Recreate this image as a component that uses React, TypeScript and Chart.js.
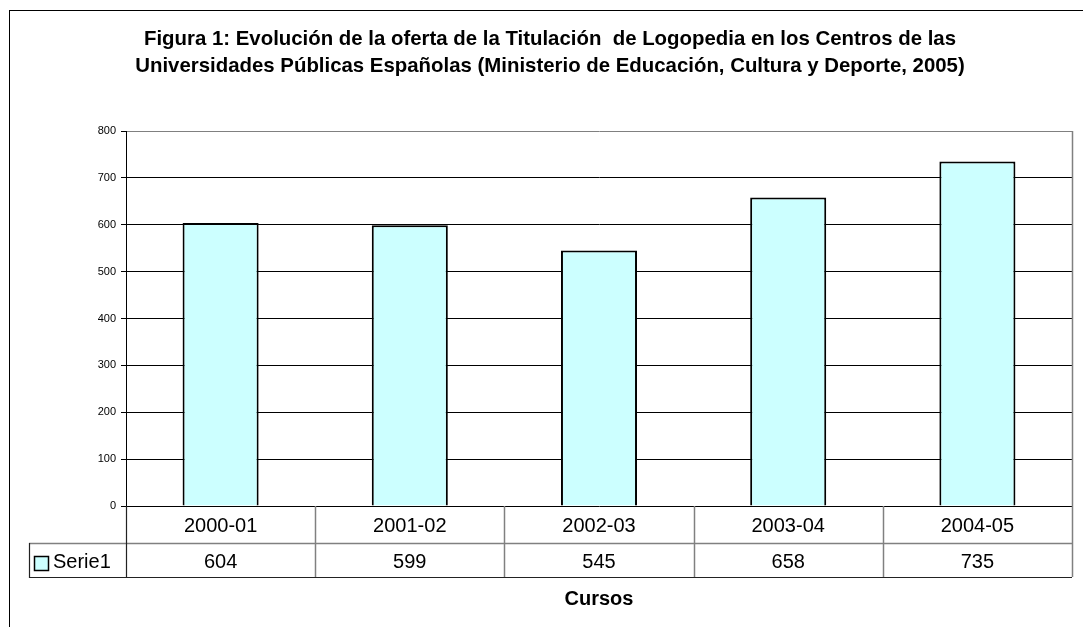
import React, { useEffect, useRef } from "react";
import { Chart, registerables } from "chart.js";

Chart.register(...registerables);

// ---- data ----
const categories: string[] = ["2000-01", "2001-02", "2002-03", "2003-04", "2004-05"];
const serie1Values: number[] = [604, 599, 545, 658, 735];
const seriesName = "Serie1";
const yMin = 0;
const yMax = 800;
const yStep = 100;
const titleLines: string[] = [
  "Figura 1: Evolución de la oferta de la Titulación  de Logopedia en los Centros de las",
  "Universidades Públicas Españolas (Ministerio de Educación, Cultura y Deporte, 2005)",
];
const xAxisTitle = "Cursos";

// ---- styles ----
const FONT = '"Liberation Sans", Arial, sans-serif';
const BAR_FILL = "#CCFFFF";
const GRAY = "#808080";

const W = 1083;
const H = 627;

const decorPlugin = {
  id: "excelDecor",
  beforeDraw(chart: any) {
    const ctx = chart.ctx as CanvasRenderingContext2D;
    ctx.save();
    ctx.fillStyle = "#ffffff";
    ctx.fillRect(0, 0, chart.width, chart.height);
    // outer chart frame (extends past right/bottom edges)
    ctx.strokeStyle = "#000000";
    ctx.lineWidth = 1;
    ctx.strokeRect(9.5, 10.5, chart.width + 40, chart.height + 40);
    ctx.restore();
  },
  afterDraw(chart: any) {
    const ctx = chart.ctx as CanvasRenderingContext2D;
    const ca = chart.chartArea;
    const x = chart.scales.x;
    const n = categories.length;
    const catW = (ca.right - ca.left) / n;

    const row1Top = ca.bottom;
    const row1Bot = ca.bottom + 37;
    const row2Bot = ca.bottom + 71;
    const legendLeft = 29;

    ctx.save();

    // Title
    ctx.fillStyle = "#000";
    ctx.font = `bold 20.4px ${FONT}`;
    ctx.textAlign = "center";
    ctx.textBaseline = "alphabetic";
    ctx.fillText(titleLines[0], 550, 45);
    ctx.fillText(titleLines[1], 550, 72);

    // Plot-area right border (gray), continues through the table
    ctx.strokeStyle = GRAY;
    ctx.lineWidth = 1.5;
    ctx.beginPath();
    ctx.moveTo(Math.round(ca.right) + 0.5, ca.top);
    ctx.lineTo(Math.round(ca.right) + 0.5, row2Bot);
    ctx.stroke();

    // Table grid: category separators
    ctx.strokeStyle = GRAY;
    ctx.lineWidth = 1.5;
    for (let i = 1; i < n; i++) {
      const xb = Math.round(x.getPixelForValue(i) - catW / 2) + 0.5;
      ctx.beginPath();
      ctx.moveTo(xb, row1Top);
      ctx.lineTo(xb, row2Bot);
      ctx.stroke();
    }
    // middle horizontal line
    ctx.beginPath();
    ctx.moveTo(legendLeft, Math.round(row1Bot) + 0.5);
    ctx.lineTo(ca.right, Math.round(row1Bot) + 0.5);
    ctx.stroke();

    // dark lines
    ctx.strokeStyle = "#222";
    ctx.lineWidth = 1.2;
    ctx.beginPath();
    ctx.moveTo(legendLeft, Math.round(row2Bot) + 0.5);
    ctx.lineTo(ca.right, Math.round(row2Bot) + 0.5);
    ctx.moveTo(legendLeft + 0.5, Math.round(row1Bot));
    ctx.lineTo(legendLeft + 0.5, Math.round(row2Bot) + 1);
    ctx.moveTo(Math.round(ca.left) + 0.5, row1Top);
    ctx.lineTo(Math.round(ca.left) + 0.5, row2Bot);
    ctx.stroke();

    // table text
    ctx.fillStyle = "#000";
    ctx.font = `20px ${FONT}`;
    ctx.textAlign = "center";
    for (let i = 0; i < n; i++) {
      const cx = x.getPixelForValue(i);
      ctx.fillText(categories[i], cx, row1Top + 26);
      ctx.fillText(String(serie1Values[i]), cx, row1Bot + 25);
    }

    // legend key
    ctx.fillStyle = BAR_FILL;
    ctx.fillRect(34.5, 556.5, 14, 14);
    ctx.strokeStyle = "#000";
    ctx.lineWidth = 1.5;
    ctx.strokeRect(34.5, 556.5, 14, 14);
    ctx.fillStyle = "#000";
    ctx.textAlign = "left";
    ctx.fillText(seriesName, 53, row1Bot + 25);

    // x axis title
    ctx.font = `bold 20px ${FONT}`;
    ctx.textAlign = "center";
    ctx.fillText(xAxisTitle, (ca.left + ca.right) / 2, 605);

    ctx.restore();
  },
};

export default function App() {
  const canvasRef = useRef<HTMLCanvasElement | null>(null);

  useEffect(() => {
    if (!canvasRef.current) return;
    const chart = new Chart(canvasRef.current, {
      type: "bar",
      data: {
        labels: categories,
        datasets: [
          {
            label: seriesName,
            data: serie1Values,
            backgroundColor: BAR_FILL,
            borderColor: "#000000",
            borderWidth: 2,
            barPercentage: 0.402,
            categoryPercentage: 1,
          },
        ],
      },
      options: {
        responsive: false,
        animation: false,
        devicePixelRatio: 1,
        layout: {
          padding: { left: 0, top: 131, right: 11, bottom: 121 },
        },
        plugins: {
          legend: { display: false },
          title: { display: false },
          tooltip: { enabled: false },
        },
        scales: {
          x: {
            display: false,
            offset: true,
          },
          y: {
            min: yMin,
            max: yMax,
            afterFit(scale: any) {
              scale.width = 126;
            },
            ticks: {
              stepSize: yStep,
              color: "#000",
              font: { family: FONT, size: 11 },
              padding: 5,
            },
            grid: {
              color: (c: any) => (c.tick && c.tick.value === yMax ? GRAY : "#000"),
              tickColor: "#000",
              tickLength: 5,
              lineWidth: 1,
              drawTicks: true,
            },
            border: { display: true, color: "#000", width: 1 },
          },
        },
      },
      plugins: [decorPlugin],
    });
    return () => chart.destroy();
  }, []);

  return (
    <div style={{ position: "fixed", left: 0, top: 0, width: W, height: H, background: "#fff" }}>
      <canvas ref={canvasRef} width={W} height={H} style={{ display: "block", width: W, height: H }} />
    </div>
  );
}
